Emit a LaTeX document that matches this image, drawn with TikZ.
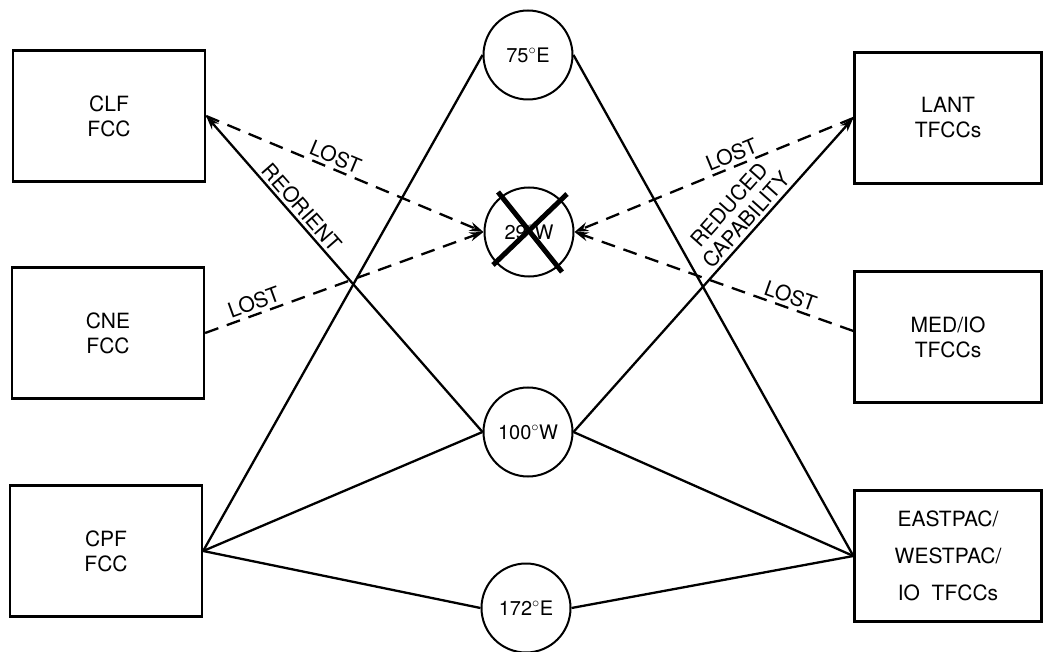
\documentclass[tikz,border=0pt]{standalone}
\usepackage{fontspec}
\setmainfont{TeX Gyre Heros}
\usetikzlibrary{arrows.meta,positioning}

\begin{document}
\begin{tikzpicture}[
    x=1pt, y=-1pt,
    >={Stealth[length=14pt,width=9pt]},
    station/.style={rectangle, draw, line width=2.3pt, minimum width=192pt, minimum height=131pt, align=center, font=\fontsize{21}{25}\selectfont},
    satellite/.style={circle, draw, line width=2pt, minimum size=89pt, inner sep=0pt, font=\fontsize{20}{24}\selectfont},
    link/.style={line width=2.3pt},
    lostlink/.style={line width=2.3pt, dash pattern=on 14pt off 9pt},
    tag/.style={font=\fontsize{21}{23}\selectfont, sloped, above, inner sep=3pt}
]
    \useasboundingbox (0,0) rectangle (1047,652);

    % Fleet centers
    \node[station] (clf) at (109,116) {CLF\\FCC};
    \node[station] (cne) at (108,333) {CNE\\FCC};
    \node[station] (cpf) at (106,551) {CPF\\FCC};

    % Task force centers
    \node[station, minimum width=187pt] (lant) at (948,118) {LANT\\TFCCs};
    \node[station, minimum width=187pt] (med) at (948,337) {MED/IO\\TFCCs};
    \node[station, minimum width=187pt, font=\fontsize{21}{37}\selectfont] (east) at (948,556) {EASTPAC/\\WESTPAC/\\IO\ \ TFCCs};

    % Satellites
    \node[satellite] (sat75) at (528,55) {75$^\circ$E};
    \node[satellite] (sat29) at (529,232) {29$^\circ$W};
    \node[satellite] (sat100) at (528,432) {100$^\circ$W};
    \node[satellite] (sat172) at (526,608) {172$^\circ$E};

    % Remaining links
    \draw[link] (cpf.east) -- (sat75.west);
    \draw[link] (cpf.east) -- (sat100.west);
    \draw[link] (cpf.east) -- (sat172.west);
    \draw[link] (east.west) -- (sat75.east);
    \draw[link] (east.west) -- (sat100.east);
    \draw[link] (east.west) -- (sat172.east);
    \draw[link, <-] (clf.east) -- (sat100.west) node[tag, pos=0.315] {REORIENT};
    \draw[link, ->] (sat100.east) -- (lant.west) node[tag, pos=0.65, align=center] {REDUCED\\CAPABILITY};

    % Lost links
    \draw[lostlink, ->] (clf.east) -- (sat29.west) node[tag, pos=0.45] {LOST};
    \draw[lostlink, ->] (cne.east) -- (sat29.west) node[tag, pos=0.19] {LOST};
    \draw[lostlink, ->] (lant.west) -- (sat29.east) node[tag, pos=0.42] {LOST};
    \draw[lostlink, ->] ([yshift=6pt]med.west) -- (sat29.east) node[tag, pos=0.24] {LOST};

    % Failed satellite
    \draw[line width=5pt] ([shift={(-31,-40)}]sat29.center) -- ([shift={(33,40)}]sat29.center);
    \draw[line width=5pt] ([shift={(38,-38)}]sat29.center) -- ([shift={(-36,33)}]sat29.center);
\end{tikzpicture}
\end{document}
